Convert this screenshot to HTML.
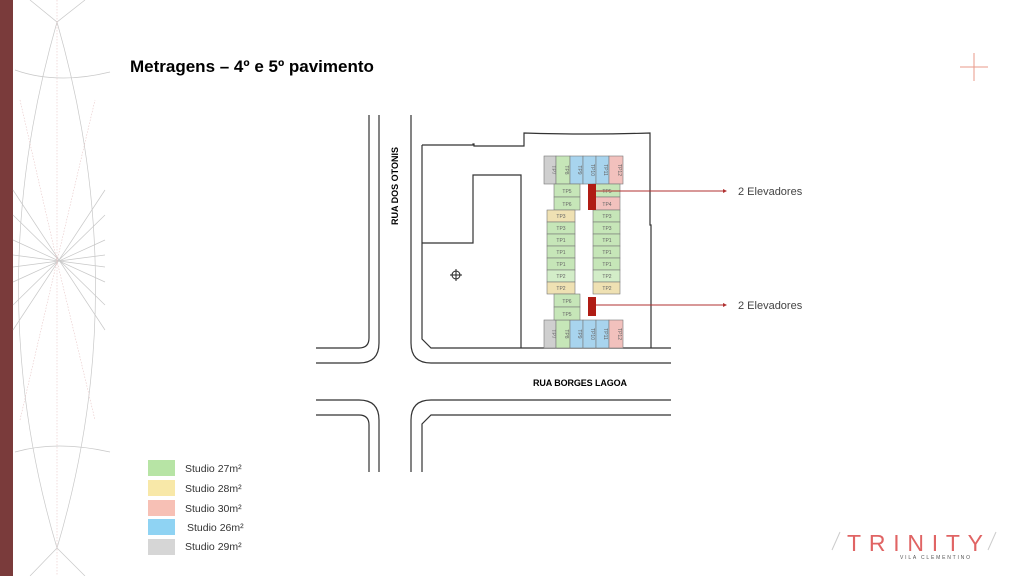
<!DOCTYPE html>
<html><head><meta charset="utf-8"><style>
body{margin:0;width:1024px;height:576px;background:#fff;position:relative;overflow:hidden;font-family:"Liberation Sans",sans-serif}
</style></head><body>
<svg width="1024" height="576" style="position:absolute;left:0;top:0" font-family="Liberation Sans">
<rect x="0" y="0" width="13" height="576" fill="#7a3b3b"/>
<g fill="none" stroke="#c8c8c8" stroke-width="0.7">
<path d="M57,22 Q-20,290 57,548"/><path d="M57,22 Q134,290 57,548"/>
<path d="M15,70 Q57,85 110,72"/><path d="M15,452 Q57,440 110,452"/>
<path d="M30,0 L57,22 L85,0"/><path d="M30,576 L57,548 L85,576"/>
<path d="M13,190 L105,330"/><path d="M13,330 L105,190"/><path d="M13,215 L105,305"/><path d="M13,305 L105,215"/>
<path d="M13,255 L105,267"/><path d="M13,267 L105,255"/><path d="M13,240 L105,282"/><path d="M13,282 L105,240"/>
</g>
<g fill="none" stroke="#e8c8c8" stroke-width="0.6" stroke-dasharray="1.5,1.5">
<line x1="57" y1="0" x2="57" y2="576"/><path d="M20,100 L57,261 L95,100"/><path d="M20,420 L57,261 L95,420"/>
</g>
<line x1="960" y1="67" x2="988" y2="67" stroke="#e89a8a" stroke-width="1"/>
<line x1="974" y1="53" x2="974" y2="81" stroke="#e89a8a" stroke-width="1"/>
<g fill="none" stroke="#333" stroke-width="1.2">
<path d="M369,115 V338 Q369,348 359,348 H316"/>
<path d="M379,115 V343 Q379,363 359,363 H316"/>
<path d="M316,400 H359 Q379,400 379,420 V472"/>
<path d="M316,415 H359 Q369,415 369,425 V472"/>
<path d="M411,115 V343 Q411,363 431,363 H671"/>
<path d="M422,145 V339 L431,348 H671"/>
<path d="M671,400 H431 Q411,400 411,420 V472"/>
<path d="M671,415 H431 L422,424 V472"/>
<path d="M422,145 H473 V144 H474 V146 H524 V133 Q590,135 650,133 V225 H651 V348"/>
<path d="M422,243 H473 V175 H521 V348"/>
</g>
<g stroke="#222" fill="none"><circle cx="456" cy="275" r="4"/><line x1="450" y1="275" x2="462" y2="275"/><line x1="456" y1="269" x2="456" y2="281"/></g>
<text x="0" y="0" font-size="9" font-weight="bold" transform="translate(398,225) rotate(-90)" textLength="78">RUA DOS OTONIS</text>
<text x="533" y="386" font-size="9" font-weight="bold" textLength="94">RUA BORGES LAGOA</text>
<g stroke="#777" stroke-width="0.6">
<rect x="544" y="156" width="12" height="28" fill="#cfcfcf"/>
<rect x="556" y="156" width="14" height="28" fill="#c6e6b8"/>
<rect x="570" y="156" width="13" height="28" fill="#a8d4ee"/>
<rect x="583" y="156" width="13" height="28" fill="#a8d4ee"/>
<rect x="596" y="156" width="13" height="28" fill="#a8d4ee"/>
<rect x="609" y="156" width="14" height="28" fill="#f2c1bd"/>
<rect x="544" y="320" width="12" height="28" fill="#cfcfcf"/>
<rect x="556" y="320" width="14" height="28" fill="#c6e6b8"/>
<rect x="570" y="320" width="13" height="28" fill="#a8d4ee"/>
<rect x="583" y="320" width="13" height="28" fill="#a8d4ee"/>
<rect x="596" y="320" width="13" height="28" fill="#a8d4ee"/>
<rect x="609" y="320" width="14" height="28" fill="#f2c1bd"/>
<rect x="554" y="184" width="26" height="13" fill="#c6e6b8"/><rect x="554" y="197" width="26" height="13" fill="#c6e6b8"/>
<rect x="547" y="210" width="28" height="12" fill="#efe1b3"/>
<rect x="547" y="222" width="28" height="12" fill="#c6e6b8"/><rect x="547" y="234" width="28" height="12" fill="#c6e6b8"/>
<rect x="547" y="246" width="28" height="12" fill="#c6e6b8"/><rect x="547" y="258" width="28" height="12" fill="#c6e6b8"/>
<rect x="547" y="270" width="28" height="12" fill="#d3edc8"/><rect x="547" y="282" width="28" height="12" fill="#efe1b3"/>
<rect x="554" y="294" width="26" height="13" fill="#c6e6b8"/><rect x="554" y="307" width="26" height="13" fill="#c6e6b8"/>
<rect x="593" y="184" width="27" height="13" fill="#c6e6b8"/><rect x="593" y="197" width="27" height="13" fill="#f2c1bd"/>
<rect x="593" y="210" width="27" height="12" fill="#c6e6b8"/><rect x="593" y="222" width="27" height="12" fill="#c6e6b8"/>
<rect x="593" y="234" width="27" height="12" fill="#c6e6b8"/><rect x="593" y="246" width="27" height="12" fill="#c6e6b8"/>
<rect x="593" y="258" width="27" height="12" fill="#c6e6b8"/><rect x="593" y="270" width="27" height="12" fill="#d3edc8"/>
<rect x="593" y="282" width="27" height="12" fill="#efe1b3"/>
</g>
<g font-size="5" fill="#666" text-anchor="middle">
<text x="567" y="193">TP5</text><text x="567" y="206">TP6</text>
<text x="561" y="218">TP3</text><text x="561" y="230">TP3</text><text x="561" y="242">TP1</text><text x="561" y="254">TP1</text><text x="561" y="266">TP1</text><text x="561" y="278">TP2</text><text x="561" y="290">TP2</text>
<text x="567" y="303">TP6</text><text x="567" y="316">TP5</text>
<text x="607" y="193">TP5</text><text x="607" y="206">TP4</text>
<text x="607" y="218">TP3</text><text x="607" y="230">TP3</text><text x="607" y="242">TP1</text><text x="607" y="254">TP1</text><text x="607" y="266">TP1</text><text x="607" y="278">TP2</text><text x="607" y="290">TP2</text>
<text transform="translate(552,170) rotate(90)">TP7</text><text transform="translate(565,170) rotate(90)">TP8</text><text transform="translate(578,170) rotate(90)">TP9</text><text transform="translate(591,170) rotate(90)">TP10</text><text transform="translate(604,170) rotate(90)">TP11</text><text transform="translate(618,170) rotate(90)">TP12</text>
<text transform="translate(552,334) rotate(90)">TP7</text><text transform="translate(565,334) rotate(90)">TP8</text><text transform="translate(578,334) rotate(90)">TP9</text><text transform="translate(591,334) rotate(90)">TP10</text><text transform="translate(604,334) rotate(90)">TP11</text><text transform="translate(618,334) rotate(90)">TP12</text>
</g>
<rect x="588" y="184" width="8" height="26" fill="#b01c14"/>
<rect x="588" y="297" width="8" height="19" fill="#b01c14"/>
<line x1="596" y1="191" x2="726" y2="191" stroke="#b03030" stroke-width="1"/>
<line x1="596" y1="305" x2="726" y2="305" stroke="#b03030" stroke-width="1"/>
<path d="M723,189 L727,191 L723,193Z" fill="#b03030"/><path d="M723,303 L727,305 L723,307Z" fill="#b03030"/>
<text x="738" y="195" font-size="11" fill="#444">2 Elevadores</text>
<text x="738" y="309" font-size="11" fill="#444">2  Elevadores</text>
<rect x="148" y="460" width="27" height="16" fill="#b7e4a5"/>
<rect x="148" y="480" width="27" height="16" fill="#f8e8a8"/>
<rect x="148" y="500" width="27" height="16" fill="#f7c0b5"/>
<rect x="148" y="519" width="27" height="16" fill="#8fd3f3"/>
<rect x="148" y="539" width="27" height="16" fill="#d6d6d6"/>
<g font-size="10.5" fill="#333"><text x="185" y="472">Studio 27m²</text><text x="185" y="492">Studio 28m²</text><text x="185" y="512">Studio 30m²</text><text x="187" y="531">Studio 26m²</text><text x="185" y="550">Studio 29m²</text></g>
<text x="130" y="72" font-size="17" font-weight="bold" fill="#000">Metragens – 4º e 5º pavimento</text>
<line x1="832" y1="550" x2="840" y2="532" stroke="#ccc"/><line x1="988" y1="550" x2="996" y2="532" stroke="#ccc"/>
<text x="847" y="551" font-size="23" fill="#e06464" textLength="136">TRINITY</text>
<text x="900" y="559" font-size="5" fill="#555" textLength="70">VILA CLEMENTINO</text>
</svg>
</body></html>
